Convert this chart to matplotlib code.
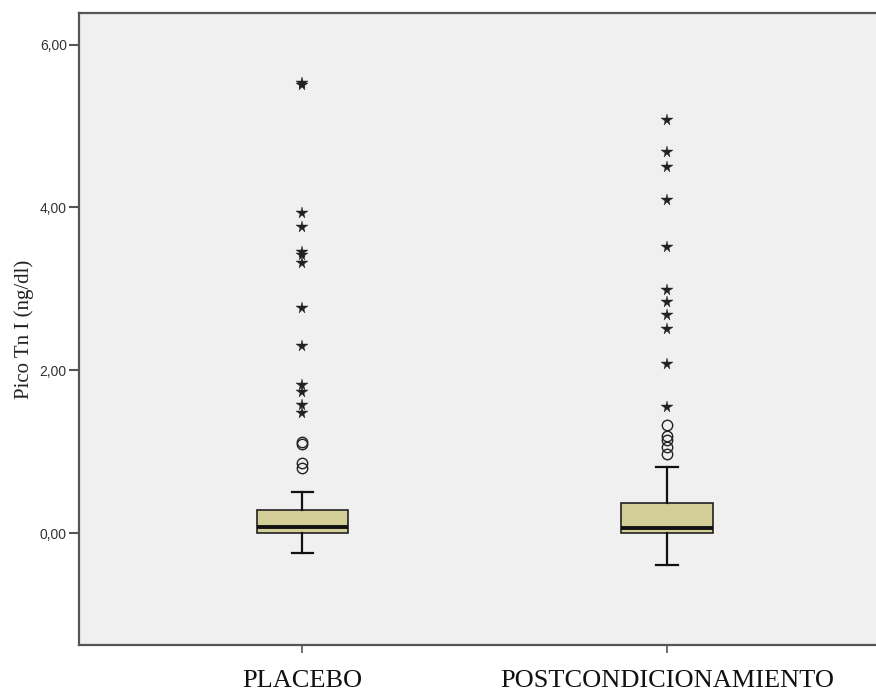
import matplotlib
matplotlib.use("Agg")
import matplotlib.pyplot as plt

# ---- data ----
groups = ["PLACEBO", "POSTCONDICIONAMIENTO"]
whisker_low = [-0.25, -0.39]
q1 = [0.0, 0.0]
median = [0.07, 0.06]
q3 = [0.28, 0.37]
whisker_high = [0.50, 0.81]

# moderate outliers (circles)
placebo_circles = [1.09, 1.12, 0.86, 0.80]
post_circles = [1.33, 1.19, 1.14, 1.06, 0.97]
# extreme outliers (stars)
placebo_stars = [5.50, 5.53, 3.93, 3.76, 3.45, 3.42, 3.32, 2.76, 2.30,
                 1.82, 1.73, 1.57, 1.47]
post_stars = [5.07, 4.68, 4.50, 4.09, 3.51, 2.99, 2.84, 2.68, 2.51, 2.08, 1.55]

yticks = [0, 2, 4, 6]
ytick_labels = ["0,00", "2,00", "4,00", "6,00"]
ylabel = "Pico Tn I (ng/dl)"

# ---- figure ----
fig = plt.figure(figsize=(8.76, 6.95), dpi=100)
ax = fig.add_axes([79.3 / 876, (695 - 645.0) / 695, 1 - 79.3 / 876, (645.0 - 13.3) / 695])
ax.set_facecolor("#F0F0F0")

positions = [1, 2]
stats = []
for i, g in enumerate(groups):
    stats.append(dict(label=g, whislo=whisker_low[i], q1=q1[i], med=median[i],
                      q3=q3[i], whishi=whisker_high[i], fliers=[]))

ax.bxp(stats, positions=positions, widths=0.25, capwidths=0.06,
       showfliers=False, patch_artist=True,
       boxprops=dict(facecolor="#D3CE97", edgecolor="#222222", linewidth=1.2),
       medianprops=dict(color="#111111", linewidth=2.8),
       whiskerprops=dict(color="#111111", linewidth=1.6),
       capprops=dict(color="#111111", linewidth=1.6))

circles = [placebo_circles, post_circles]
stars = [placebo_stars, post_stars]
for i, p in enumerate(positions):
    ax.plot([p] * len(circles[i]), circles[i], linestyle="none", marker="o",
            markersize=7.5, markerfacecolor="none", markeredgecolor="#222222",
            markeredgewidth=1.0)
    ax.plot([p] * len(stars[i]), stars[i], linestyle="none", marker="*",
            markersize=8.5, color="#222222", markeredgewidth=0.3)

ax.set_xlim(0.388, 2.573)
ax.set_ylim(-1.376, 6.385)

ax.set_yticks(yticks)
ax.set_yticklabels(ytick_labels, fontfamily="Liberation Sans", fontsize=10,
                   color="#333333")
ax.set_xticks(positions)
ax.set_xticklabels(groups, fontfamily="Liberation Serif", fontsize=19,
                   color="#111111")
ax.tick_params(axis="y", length=7, width=1.5, color="#555555", pad=2)
ax.tick_params(axis="x", length=6, width=1.2, color="#555555", pad=12)

ax.set_ylabel(ylabel, fontfamily="Liberation Serif", fontsize=15,
              color="#222222", labelpad=4)

for side in ["left", "bottom", "top"]:
    ax.spines[side].set_color("#555555")
    ax.spines[side].set_linewidth(1.6)
ax.spines["right"].set_visible(False)

fig.savefig("out.png", dpi=100)
